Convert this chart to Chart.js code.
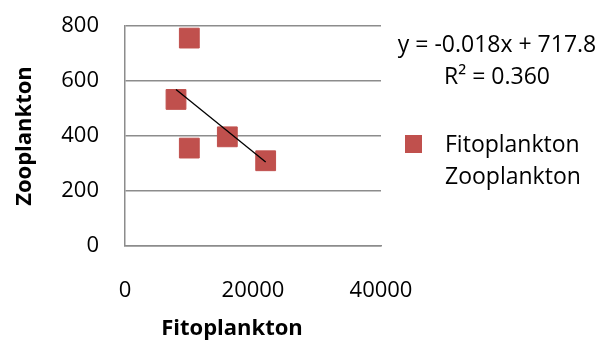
<!DOCTYPE html>
<html>
<head>
<meta charset="utf-8">
<script src="https://cdn.jsdelivr.net/npm/chart.js@4"></script>
<style>
  html, body { margin: 0; padding: 0; background: #fff; }
  #wrap { width: 613px; height: 341px; }
</style>
</head>
<body>
<div id="wrap"><canvas id="scatter_chart"></canvas></div>
<script>
// values
var fitoplankton = [10050, 7970, 10050, 15990, 21980];
var zooplankton = [756, 533, 356, 397, 310];
var xTicks = [0, 20000, 40000];
var yTicks = [0, 200, 400, 600, 800];
var xTitle = 'Fitoplankton';
var yTitle = 'Zooplankton';
var equationText = 'y = -0.018x + 717.8';
var r2Text = 'R² = 0.360';
var legendLines = ['Fitoplankton', 'Zooplankton'];

var FONT = '"Open Sans", sans-serif';
var RED = '#C0504D';

// least squares line through the points
function trendline(xs, ys) {
    var n = xs.length, mx = 0, my = 0;
    for (var i = 0; i < n; i++) { mx += xs[i]; my += ys[i]; }
    mx /= n; my /= n;
    var sxy = 0, sxx = 0;
    for (var j = 0; j < n; j++) {
        sxy += (xs[j] - mx) * (ys[j] - my);
        sxx += (xs[j] - mx) * (xs[j] - mx);
    }
    var b = sxy / sxx, a = my - b * mx;
    var x0 = Math.min.apply(null, xs), x1 = Math.max.apply(null, xs);
    return [{x: x0, y: a + b * x0}, {x: x1, y: a + b * x1}];
}

var points = fitoplankton.map(function (v, i) { return {x: v, y: zooplankton[i]}; });

// equation, legend and the x title (which sits left of the plot centre)
var sidePanel = {
    id: 'sidePanel',
    afterDraw: function (chart) {
        var ctx = chart.ctx;
        ctx.save();
        ctx.fillStyle = '#000';
        ctx.textBaseline = 'middle';

        ctx.font = 'bold 22px ' + FONT;
        ctx.textAlign = 'center';
        ctx.fillText(xTitle, 232, 329);

        ctx.font = '23px ' + FONT;
        ctx.fillText(equationText, 497, 45);
        ctx.fillText(r2Text, 497, 77);

        ctx.fillStyle = RED;
        ctx.fillRect(405, 135, 17, 18);
        ctx.fillStyle = '#000';
        ctx.textAlign = 'left';
        ctx.fillText(legendLines[0], 445, 145);
        ctx.fillText(legendLines[1], 445, 177);
        ctx.restore();
    }
};

new Chart(document.getElementById('scatter_chart').getContext('2d'), {
    type: 'scatter',
    data: {
        datasets: [
            {
                label: 'Trend',
                type: 'line',
                data: trendline(fitoplankton, zooplankton),
                borderColor: '#000',
                borderWidth: 1.3,
                pointRadius: 0,
                fill: false,
                order: 0
            },
            {
                label: 'Fitoplankton Zooplankton',
                data: points,
                backgroundColor: RED,
                borderColor: RED,
                pointStyle: 'rect',
                pointRadius: 14,
                pointHoverRadius: 14,
                order: 1
            }
        ]
    },
    options: {
        responsive: true,
        maintainAspectRatio: false,
        animation: false,
        events: [],
        layout: { padding: { top: 26, right: 232, left: 0, bottom: 0 } },
        plugins: { legend: { display: false }, tooltip: { enabled: false } },
        scales: {
            x: {
                type: 'linear',
                min: 0,
                max: 40000,
                afterBuildTicks: function (scale) {
                    scale.ticks = xTicks.map(function (v) { return {value: v}; });
                },
                afterFit: function (scale) {
                    scale.height = 95;
                    scale.paddingLeft = 0;
                    scale.paddingRight = 0;
                },
                grid: { display: false, drawTicks: false },
                border: { display: true, color: '#8c8c8c', width: 1.5 },
                ticks: {
                    padding: 32,
                    color: '#000',
                    font: { family: FONT, size: 22 },
                    maxRotation: 0,
                    callback: function (v) { return String(v); }
                },
                title: { display: false }
            },
            y: {
                min: 0,
                max: 800,
                afterBuildTicks: function (scale) {
                    scale.ticks = yTicks.map(function (v) { return {value: v}; });
                },
                afterFit: function (scale) {
                    scale.width = 125;
                    scale.paddingTop = 0;
                    scale.paddingBottom = 0;
                },
                grid: { color: '#8c8c8c', lineWidth: 1.5, drawTicks: false },
                border: { display: true, color: '#8c8c8c', width: 1.5 },
                ticks: {
                    padding: 26,
                    color: '#000',
                    font: { family: FONT, size: 22 },
                    callback: function (v) { return String(v); }
                },
                title: {
                    display: true,
                    text: yTitle,
                    color: '#000',
                    font: { family: FONT, size: 22, weight: 'bold' },
                    padding: { top: 12, bottom: 0 }
                }
            }
        }
    },
    plugins: [sidePanel]
});
</script>
</body>
</html>
